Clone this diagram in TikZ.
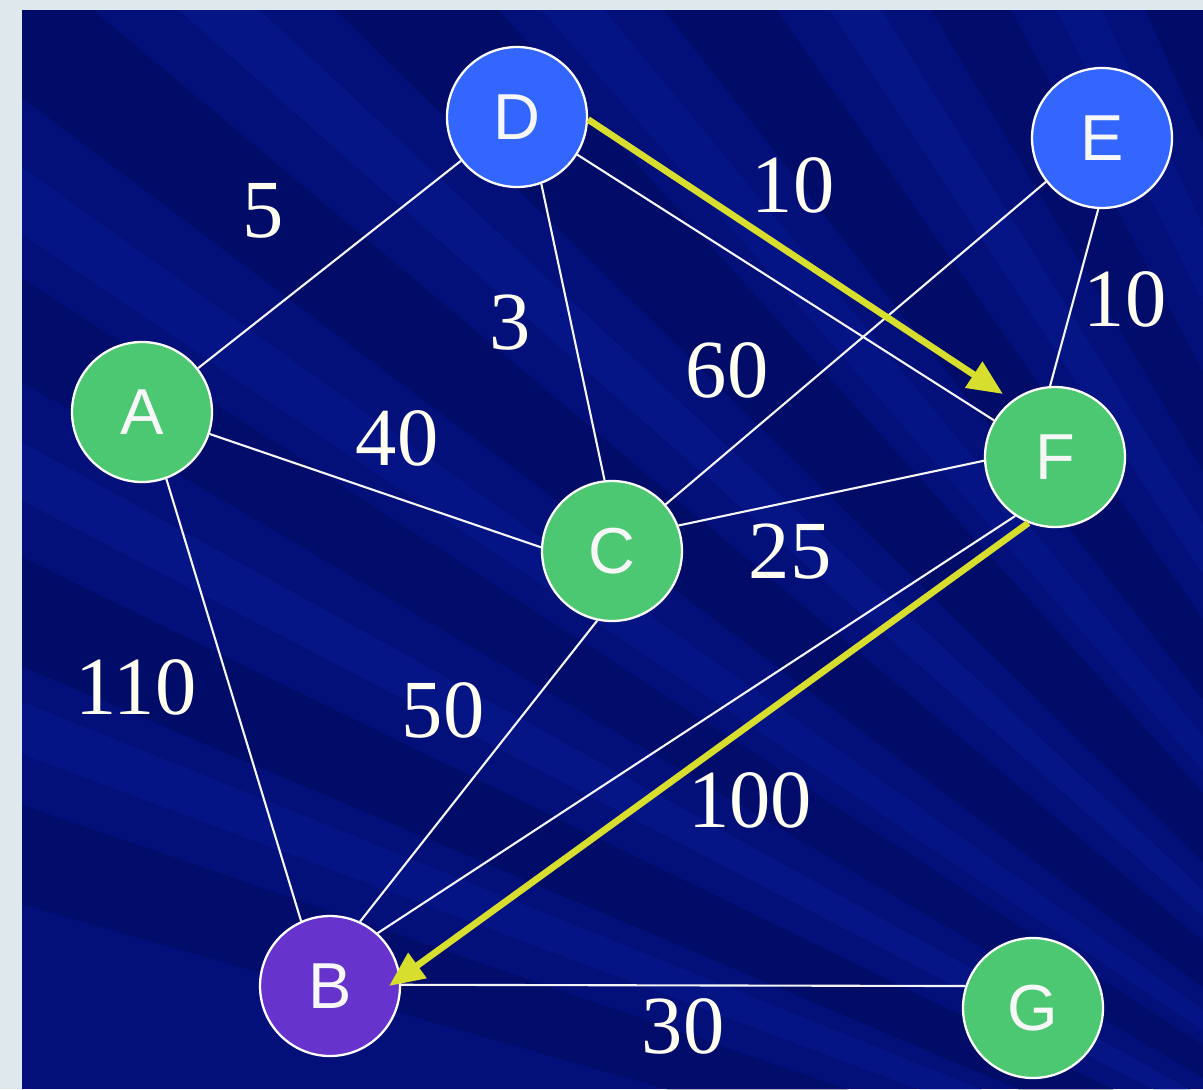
\documentclass[tikz,border=0pt]{standalone}
\usepackage{fontspec}
\setmainfont{Liberation Serif}
\newfontfamily\vertexfont{Liberation Sans}
\usetikzlibrary{arrows.meta}
\definecolor{bordercol}{HTML}{DFE8EC}
\definecolor{panelcol}{HTML}{03107A}
\definecolor{darkstreak}{HTML}{000648}
\definecolor{lightstreak}{HTML}{0B26AC}
\definecolor{vblue}{HTML}{3366FF}
\definecolor{vgreen}{HTML}{4CC873}
\definecolor{vpurple}{HTML}{6633CC}
\definecolor{pathyellow}{HTML}{D8DE2E}
\definecolor{labelcream}{HTML}{FFFFF2}
\tikzset{
  vertex/.style={circle, draw=white, line width=1.3pt, minimum size=2.8cm,
    inner sep=0pt, text=white!94!gray, font=\vertexfont\fontsize{37}{37}\selectfont},
  bluev/.style={vertex, fill=vblue},
  greenv/.style={vertex, fill=vgreen},
  purplev/.style={vertex, fill=vpurple},
  wedge/.style={draw=white!92!gray, line width=1.2pt},
  patharrow/.style={draw=pathyellow, line width=3.8pt,
    -{Triangle[length=20pt,width=17pt]}},
  wlabel/.style={text=labelcream, inner sep=0pt, font=\fontsize{47}{47}\selectfont}
}
\begin{document}
\begin{tikzpicture}[x=0.02cm,y=-0.02cm]
\useasboundingbox (0,0) rectangle (1203,1089);
\fill[bordercol] (0,0) rectangle (1203,1089);
\fill[panelcol] (22,10) rectangle (1203,1089);
\begin{scope}
\clip (22,10) rectangle (1203,1089);
\foreach \a/\b/\c/\o in {
  196/199/darkstreak/0.30, 200.5/202/lightstreak/0.22, 203/206/darkstreak/0.35,
  207.5/209/lightstreak/0.25, 210.5/213/darkstreak/0.30, 214/215.5/lightstreak/0.22,
  217/220/darkstreak/0.35, 221.5/223/lightstreak/0.25, 224.5/228/darkstreak/0.35,
  229/230.5/lightstreak/0.22, 232/235/darkstreak/0.35, 236.5/238/lightstreak/0.25,
  239.5/242/darkstreak/0.30, 243.5/245/lightstreak/0.22, 246.5/250/darkstreak/0.35,
  251.5/253/lightstreak/0.2}
  \fill[\c, opacity=\o] (1750,1400) -- +(\a:3500) -- +(\b:3500) -- cycle;
\end{scope}

% vertices
\node[bluev]   (D) at (517,117)  {D};
\node[bluev]   (E) at (1102,138) {E};
\node[greenv]  (A) at (142,412)  {A};
\node[greenv]  (F) at (1055,457) {F};
\node[greenv]  (C) at (612,551)  {C};
\node[purplev] (B) at (330,986)  {B};
\node[greenv]  (G) at (1033,1008) {G};

% edges
\draw[wedge] (A.38)  -- (D.-142);
\draw[wedge] (D.-70) -- (C.96);
\draw[wedge] (D.-32) -- (F.149);
\draw[wedge] (E.-142) -- (C.41);
\draw[wedge] (E.-93) -- (F.94);
\draw[wedge] (A.-18) -- (C.177);
\draw[wedge] (C.21)  -- (F.-177);
\draw[wedge] (A.-70) -- (B.114);
\draw[wedge] (C.-102) -- (B.65);
\draw[wedge] (F.-124) -- (B.48);
\draw[wedge] (B.1)   -- (G.162);

% highlighted path
\coordinate (fTip) at (1003,394);
\coordinate (bTip) at (389,986);
\draw[patharrow] (D.-2) -- (fTip);
\draw[patharrow] (F.-112) -- (bTip);

% weights
\node[wlabel] (w5)   at (263,211)  {5};
\node[wlabel] (w3)   at (510,323)  {3};
\node[wlabel] (w10a) at (793,185)  {10};
\node[wlabel] (w10b) at (1125,299) {10};
\node[wlabel] (w60)  at (727,370)  {60};
\node[wlabel] (w40)  at (397,438)  {40};
\node[wlabel] (w25)  at (790,552)  {25};
\node[wlabel] (w110) at (136,687)  {110};
\node[wlabel] (w50)  at (443,710)  {50};
\node[wlabel] (w100) at (750,800)  {100};
\node[wlabel] (w30)  at (683,1026) {30};
\end{tikzpicture}
\end{document}
